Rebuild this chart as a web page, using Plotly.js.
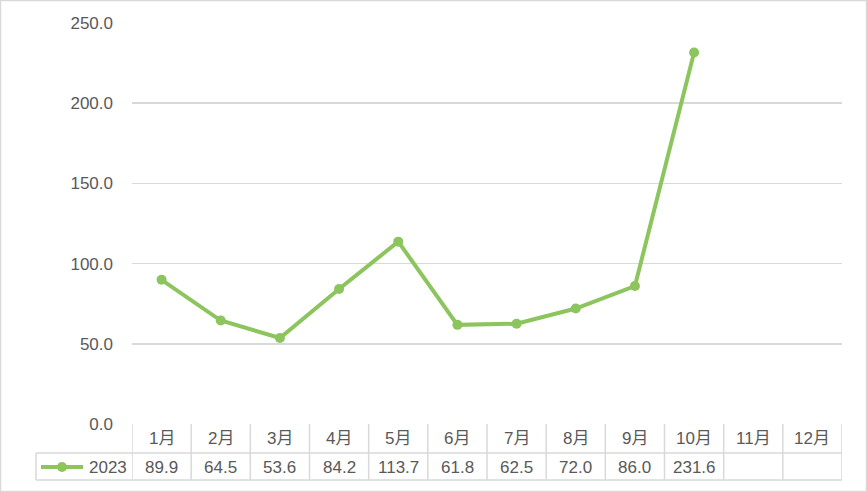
<!DOCTYPE html>
<html><head><meta charset="utf-8">
<script src="https://cdn.plot.ly/plotly-3.0.1.min.js"></script>
<style>html,body{margin:0;padding:0;background:#fff}#c{width:867px;height:492px}</style>
</head><body><div id="c"></div>
<script>
const months = ['1月','2月','3月','4月','5月','6月','7月','8月','9月','10月','11月','12月'];
const seriesName = '2023';
const values2023 = [89.9, 64.5, 53.6, 84.2, 113.7, 61.8, 62.5, 72.0, 86.0, 231.6, null, null];
const yTicks = [0, 50, 100, 150, 200, 250];

const W = 867, H = 492, L = 132, R = 842, T = 23, B = 424;
const pw = R - L, ph = B - T;
const px = x => (x - L) / pw;
const py = y => (B - y) / ph;
const green = '#8CC45E', grid = '#d9d9d9', txt = '#595959';
const font = {family: 'Liberation Sans, Noto Sans CJK SC, sans-serif', size: 17, color: txt};

const row1 = 438.5, row2 = 467, tableBot = 480, midLine = 453, legLeft = 36;

const shapes = [];
const annotations = [];
shapes.push({type:'line', xref:'paper', yref:'paper', x0:px(legLeft), x1:1, y0:py(midLine), y1:py(midLine), line:{color:grid, width:1.5}});
shapes.push({type:'line', xref:'paper', yref:'paper', x0:px(legLeft), x1:1, y0:py(tableBot), y1:py(tableBot), line:{color:grid, width:1.5}});
shapes.push({type:'line', xref:'paper', yref:'paper', x0:px(legLeft), x1:px(legLeft), y0:py(midLine), y1:py(tableBot), line:{color:grid, width:1.5}});
for (let i = 0; i <= months.length; i++) {
  shapes.push({type:'line', xref:'x', yref:'paper', x0:i-0.5, x1:i-0.5, y0:0, y1:py(tableBot), line:{color:grid, width:1.5}});
}
shapes.push({type:'line', xref:'paper', yref:'paper', x0:px(41), x1:px(83), y0:py(row2), y1:py(row2), line:{color:green, width:4}});
shapes.push({type:'circle', xref:'paper', yref:'paper', x0:px(57), x1:px(67), y0:py(row2+5), y1:py(row2-5), fillcolor:green, line:{color:green, width:0}});
shapes.push({type:'rect', xref:'paper', yref:'paper', x0:px(0.5), x1:px(W-0.5), y0:py(H-0.5), y1:py(0.5), line:{color:grid, width:1.5}});

months.forEach((m, i) => {
  annotations.push({x:i, xref:'x', y:py(row1), yref:'paper', text:m, showarrow:false, font, xanchor:'center', yanchor:'middle'});
  if (values2023[i] !== null) {
    annotations.push({x:i, xref:'x', y:py(row2), yref:'paper', text:values2023[i].toFixed(1), showarrow:false, font, xanchor:'center', yanchor:'middle'});
  }
});
annotations.push({x:px(129), xref:'paper', y:py(row2), yref:'paper', text:seriesName, showarrow:false, font, xanchor:'right', yanchor:'middle'});

const trace = {
  x: months.map((_, i) => i), y: values2023, type:'scatter', mode:'lines+markers',
  line:{color:green, width:4}, marker:{color:green, size:10}, connectgaps:false, cliponaxis:false,
  hoverinfo:'skip'
};

Plotly.newPlot('c', [trace], {
  width: W, height: H,
  margin: {l: L, r: W - R, t: T, b: H - B},
  paper_bgcolor:'#fff', plot_bgcolor:'#fff',
  showlegend:false,
  font,
  xaxis: {range:[-0.5, 11.5], showticklabels:false, showgrid:false, zeroline:false, showline:false, ticks:''},
  yaxis: {range:[0, 250], tickvals:yTicks, ticktext:yTicks.map(v => v.toFixed(1)), showgrid:true, gridcolor:grid, gridwidth:1.5,
          zeroline:false, showline:false, ticks:'', ticklabelstandoff:18, tickfont:font},
  shapes, annotations
}, {staticPlot:true});
</script></body></html>
